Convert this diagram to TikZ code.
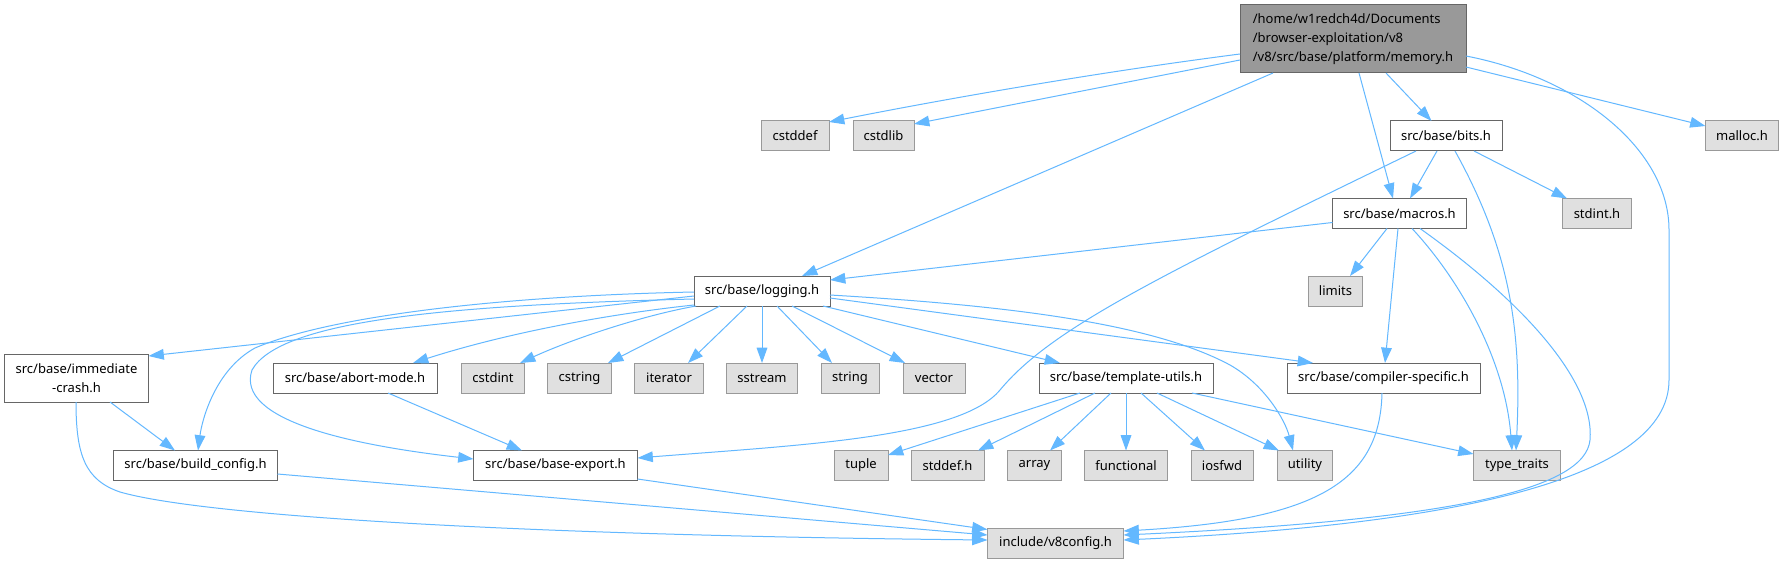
\documentclass[tikz,border=0pt]{standalone}
\usepackage{fontspec}
\setmainfont{Noto Sans}
\usetikzlibrary{arrows.meta,calc}
\definecolor{edgec}{HTML}{63B8FF}
\definecolor{extfill}{HTML}{E0E0E0}
\definecolor{extdraw}{HTML}{999999}
\definecolor{nodedraw}{HTML}{666666}
\definecolor{rootfill}{HTML}{999999}
\newcommand\graphfont{\fontsize{9.75pt}{14.4pt}\selectfont}
\begin{document}
\begin{tikzpicture}[x=0.75pt,y=-0.75pt,
  box/.style={draw=nodedraw, fill=white, line width=0.75pt, inner sep=0pt,
    minimum height=22.5pt, font=\graphfont, text=black, minimum width={#1*0.75pt}},
  ext/.style={box=#1, draw=extdraw, fill=extfill},
  root/.style={box=#1, fill=rootfill, minimum height=51pt, align=left},
  e/.style={draw=edgec, line width=0.75pt, -{Triangle[length=11.5pt,width=8pt]}}]
\fill[white] (0,0) rectangle (1784,563);
\useasboundingbox (0,0) rectangle (1784,563);

% nodes
\node[root=226] (memory) at (1353,39) {/home/w1redch4d/Documents\\/browser-exploitation/v8\\/v8/src/base/platform/memory.h};
\node[ext=68] (cstddef) at (795,136) {cstddef};
\node[ext=61] (cstdlib) at (883.5,136) {cstdlib};
\node[box=112] (bits) at (1446,136) {src/base/bits.h};
\node[ext=73] (malloc) at (1742,136) {malloc.h};
\node[box=134] (macros) at (1399.5,213.5) {src/base/macros.h};
\node[ext=69] (stdint) at (1597,213.5) {stdint.h};
\node[box=136] (logging) at (762,291) {src/base/logging.h};
\node[ext=54] (limits) at (1335.5,291) {limits};
\node[box=144, minimum height=36pt, align=center] (immediate) at (76.5,378) {src/base/immediate\\-crash.h};
\node[box=164] (abort) at (355,378) {src/base/abort-mode.h};
\node[ext=63] (cstdint) at (493,378) {cstdint};
\node[ext=64] (cstring) at (579.5,378) {cstring};
\node[ext=69] (iterator) at (669,378) {iterator};
\node[ext=71] (sstream) at (762,378) {sstream};
\node[ext=58] (string) at (850,378) {string};
\node[ext=62] (vector) at (934,378) {vector};
\node[box=174] (template) at (1126,378) {src/base/template-utils.h};
\node[box=193] (compiler) at (1383.5,378) {src/base/compiler-specific.h};
\node[box=164] (build) at (195.5,465.5) {src/base/build\_config.h};
\node[box=164] (baseexp) at (555.5,465.5) {src/base/base-export.h};
\node[ext=54] (tuple) at (861,465.5) {tuple};
\node[ext=73] (stddef) at (947.5,465.5) {stddef.h};
\node[ext=54] (array) at (1034.5,465.5) {array};
\node[ext=83] (functional) at (1126,465.5) {functional};
\node[ext=62] (iosfwd) at (1222,465.5) {iosfwd};
\node[ext=55] (utility) at (1305,465.5) {utility};
\node[ext=87] (typetraits) at (1517,465.5) {type\_traits};
\node[ext=136] (v8config) at (1055.5,543) {include/v8config.h};

% edges from memory.h
\draw[e] ($(memory)+(-113,15)$) .. controls +(-140,18) and +(121,-24) .. ($(cstddef)+(34,-14)$);
\draw[e] ($(memory)+(-113,21)$) -- ($(cstdlib)+(30.5,-12)$);
\draw[e] ($(memory)+(-80,34)$) -- ($(logging)+(40,-15)$);
\draw[e] ($(memory)+(6,34)$) -- ($(macros)+(-6.5,-15)$);
\draw[e] ($(memory)+(33,34)$) -- ($(bits)+(-14.5,-15)$);
\draw[e] ($(memory)+(113,28)$) -- ($(malloc)+(-36.5,-10)$);
\draw[e] ($(memory)+(113,17)$) .. controls +(114,22) and +(0,-80) .. ++(203,174) -- ++(0,150) .. controls +(0,100) and +(327,-15) .. ($(v8config)+(68,-3)$);

% edges from bits.h
\draw[e] ($(bits)+(-9,15)$) -- ($(macros)+(10.5,-15)$);
\draw[e] ($(bits)+(28,15)$) -- ($(stdint)+(-30,-15)$);
\draw[e] ($(bits)+(9,15)$) .. controls +(55,99) and +(6,-120.5) .. ($(typetraits)+(-1,-15)$);
\draw[e] ($(bits)+(-30,15)$) .. controls +(-266,129) and +(50,-60) .. ++(-416,239) .. controls +(-40,48) and +(162.5,-13) .. ($(baseexp)+(82,-7.5)$);

% edges from macros.h
\draw[e] ($(macros)+(-67,9)$) -- ($(logging)+(68,-11)$);
\draw[e] ($(macros)+(-12.5,15)$) -- ($(limits)+(14.5,-15)$);
\draw[e] ($(macros)+(-1.5,15)$) -- ($(compiler)+(1.5,-15)$);
\draw[e] ($(macros)+(12.5,15)$) .. controls +(48,51.5) and +(-7,-90.5) .. ($(typetraits)+(-5,-15)$);
\draw[e] ($(macros)+(20.5,15)$) .. controls +(100,71) and +(5,-60) .. ++(170,211.5) .. controls +(-5,50) and +(326.5,-15) .. ($(v8config)+(68,-8)$);

% edges from logging.h
\draw[e] ($(logging)+(-68,5)$) -- ($(immediate)+(72,-22)$);
\draw[e] ($(logging)+(-68,1)$) .. controls +(-194,4) and +(75,-32) .. ++(-439,56) .. controls +(-40,22) and +(4,-30.5) .. ($(build)+(2.5,-15)$);
\draw[e] ($(logging)+(-68,8)$) .. controls +(-244,6) and +(28,-50) .. ++(-442,71) .. controls +(-17,50) and +(-123.5,-14) .. ($(baseexp)+(-82,-6.5)$);
\draw[e] ($(logging)+(-68,14)$) .. controls +(-94,10) and +(87,-28) .. ($(abort)+(58,-15)$);
\draw[e] ($(logging)+(-66,15)$) .. controls +(-56,10) and +(50,-23) .. ($(cstdint)+(27,-15)$);
\draw[e] ($(logging)+(-42,15)$) -- ($(cstring)+(28.5,-15)$);
\draw[e] ($(logging)+(-15,15)$) -- ($(iterator)+(19,-15)$);
\draw[e] ($(logging)+(0,15)$) -- ($(sstream)+(0,-15)$);
\draw[e] ($(logging)+(15,15)$) -- ($(string)+(-18,-15)$);
\draw[e] ($(logging)+(30,15)$) -- ($(vector)+(-29,-15)$);
\draw[e] ($(logging)+(61,15)$) -- ($(template)+(-66,-15)$);
\draw[e] ($(logging)+(68,7)$) -- ($(compiler)+(-70.5,-15)$);
\draw[e] ($(logging)+(68,4)$) .. controls +(170,10) and +(-80,-43) .. ++(400,70) .. controls +(35,20) and +(-8,-30.5) .. ($(utility)+(-12,-15)$);

% edges from immediate-crash.h
\draw[e] ($(immediate)+(33.5,24)$) -- ($(build)+(-20.5,-15)$);
\draw[e] ($(immediate)+(-0.5,24)$) .. controls +(0,53) and +(-35,-12) .. ++(44,90) .. controls +(80,23) and +(-487.5,-5) .. ($(v8config)+(-68,-3)$);

% abort-mode.h
\draw[e] ($(abort)+(33,15)$) -- ($(baseexp)+(-33.5,-15)$);

% template-utils.h
\draw[e] ($(template)+(-46,15)$) -- ($(tuple)+(27,-10.5)$);
\draw[e] ($(template)+(-31,15)$) -- ($(stddef)+(30.5,-15)$);
\draw[e] ($(template)+(-15,15)$) -- ($(array)+(15.5,-15)$);
\draw[e] ($(template)+(0,15)$) -- ($(functional)+(0,-15)$);
\draw[e] ($(template)+(15,15)$) -- ($(iosfwd)+(-17,-15)$);
\draw[e] ($(template)+(31,15)$) -- ($(utility)+(-26,-15)$);
\draw[e] ($(template)+(66,15)$) -- ($(typetraits)+(-43.5,-11.5)$);

% into v8config
\draw[e] ($(baseexp)+(82,13.5)$) -- ($(v8config)+(-68,-13.5)$);
\draw[e] ($(build)+(82,8.5)$) -- ($(v8config)+(-68,-8)$);
\draw[e] ($(compiler)+(-1.5,15)$) .. controls +(-2,87) and +(196.5,-11) .. ($(v8config)+(68,-12)$);
\end{tikzpicture}
\end{document}
